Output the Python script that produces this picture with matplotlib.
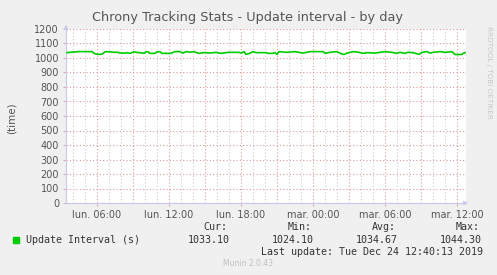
import numpy as np
import matplotlib
matplotlib.use('Agg')
import matplotlib.pyplot as plt
from matplotlib.ticker import MultipleLocator, FixedLocator

# minutes since Monday 00:00, update interval (s)
minutes = [210, 230, 270, 335, 345, 360, 380, 390, 400, 430, 435, 465, 475, 500,
           510, 525, 545, 560, 580, 595, 605, 615, 625, 650, 660, 675, 685, 730,
           750, 775, 790, 805, 825, 845, 860, 870, 895, 930, 955, 980, 1015, 1070,
           1080, 1095, 1105, 1120, 1140, 1155, 1205, 1215, 1240, 1250, 1260, 1270,
           1305, 1350, 1390, 1425, 1490, 1500, 1525, 1560, 1580, 1595, 1610, 1625,
           1645, 1670, 1690, 1710, 1750, 1800, 1835, 1860, 1875, 1900, 1915, 1940,
           1970, 1985, 2010, 2025, 2040, 2075, 2100, 2135, 2150, 2185, 2190, 2205]
interval = [1037, 1040, 1044, 1044, 1032, 1026, 1025, 1031, 1043, 1043, 1040, 1039,
            1034, 1034, 1037, 1032, 1043, 1038, 1036, 1032, 1043, 1043, 1032, 1032,
            1043, 1043, 1032, 1032, 1044, 1044, 1034, 1044, 1040, 1044, 1036, 1032,
            1037, 1035, 1039, 1032, 1039, 1039, 1034, 1044, 1025, 1030, 1044, 1037,
            1037, 1032, 1032, 1037, 1025, 1044, 1039, 1044, 1034, 1044, 1044, 1032,
            1039, 1044, 1030, 1024, 1034, 1039, 1044, 1039, 1032, 1037, 1034, 1044,
            1039, 1032, 1039, 1032, 1039, 1037, 1025, 1039, 1044, 1034, 1039, 1044,
            1039, 1044, 1024, 1024, 1032, 1038]

tick_hours = [6, 12, 18, 24, 30, 36]
tick_labels = ['lun. 06:00', 'lun. 12:00', 'lun. 18:00',
               'mar. 00:00', 'mar. 06:00', 'mar. 12:00']
stats_names = ['Cur:', 'Min:', 'Avg:', 'Max:']
stats_values = ['1033.10', '1024.10', '1034.67', '1044.30']

bg = '#f0f0f0'
txt = '#555555'
red = '#de9a9a'

fig = plt.figure(figsize=(4.97, 2.75), dpi=100, facecolor=bg)
ax = fig.add_axes([66 / 497, 72 / 275, 400 / 497, 174 / 275])
ax.set_facecolor('white')

hours = np.array(minutes) / 60.0
ax.plot(hours, interval, color='#00cc00', lw=1.2, zorder=5)

ax.set_xlim(3 + 25 / 60, 36 + 45 / 60)
ax.set_ylim(0, 1200)

# grids: minor hourly grey, major every 3h red
for h in np.arange(4, 37):
    col = red if h % 3 == 0 else '#cccccc'
    ax.axvline(h, color=col, lw=0.8, ls=(0, (1, 2)), zorder=1)
for v in range(100, 1300, 100):
    ax.axhline(v, color=red, lw=0.8, ls=(0, (1, 2)), zorder=1)

ax.xaxis.set_major_locator(FixedLocator(tick_hours))
ax.set_xticklabels(tick_labels)
ax.yaxis.set_major_locator(MultipleLocator(100))
ax.tick_params(axis='both', labelsize=7, colors=red, labelcolor=txt,
               length=2, width=0.6, pad=3)

for s in ['top', 'right']:
    ax.spines[s].set_visible(False)
for s in ['left', 'bottom']:
    ax.spines[s].set_color('#c8c8f0')
    ax.spines[s].set_linewidth(0.8)

# arrow heads on axes
ax.annotate('', xy=(1.012, 0), xytext=(0.99, 0), xycoords='axes fraction',
            arrowprops=dict(arrowstyle='-|>', color='#c8c8f0', lw=0.8,
                            mutation_scale=6), annotation_clip=False)
ax.annotate('', xy=(0, 1.04), xytext=(0, 0.99), xycoords='axes fraction',
            arrowprops=dict(arrowstyle='-|>', color='#c8c8f0', lw=0.8,
                            mutation_scale=6), annotation_clip=False)

fig.text(248 / 497, 1 - 17 / 275, 'Chrony Tracking Stats - Update interval - by day',
         ha='center', va='center', fontsize=9.3, color='#555555')
fig.text(12 / 497, 1 - 118 / 275, '(time)', rotation=90, ha='center', va='center',
         fontsize=7.5, color=txt)
fig.text(489 / 497, 1 - 72 / 275, 'RRDTOOL / TOBI OETIKER', rotation=270,
         ha='center', va='center', fontsize=5.2, color='#c8c8c8')

mono = 'DejaVu Sans Mono'
fig.patches.append(plt.Rectangle((13 / 497, 1 - 243 / 275), 6 / 497, 6 / 275,
                                 transform=fig.transFigure, color='#00cc00'))
fig.text(26 / 497, 1 - 240 / 275, 'Update Interval (s)', family=mono,
         fontsize=7.2, color='#333333', va='center')
for i, (n, v) in enumerate(zip(stats_names, stats_values)):
    xr = (230 + i * 84) / 497
    fig.text(xr - 0.005, 1 - 227 / 275, n, family=mono, fontsize=7.2,
             color='#333333', va='center', ha='right')
    fig.text(xr, 1 - 240 / 275, v, family=mono, fontsize=7.2,
             color='#333333', va='center', ha='right')
fig.text(483 / 497, 1 - 252 / 275, 'Last update: Tue Dec 24 12:40:13 2019',
         family=mono, fontsize=7.2, color='#333333', va='center', ha='right')
fig.text(248 / 497, 1 - 263 / 275, 'Munin 2.0.43', fontsize=5.5,
         color='#c0c0c0', ha='center', va='center')

fig.savefig('out.png', dpi=100, facecolor=bg)
